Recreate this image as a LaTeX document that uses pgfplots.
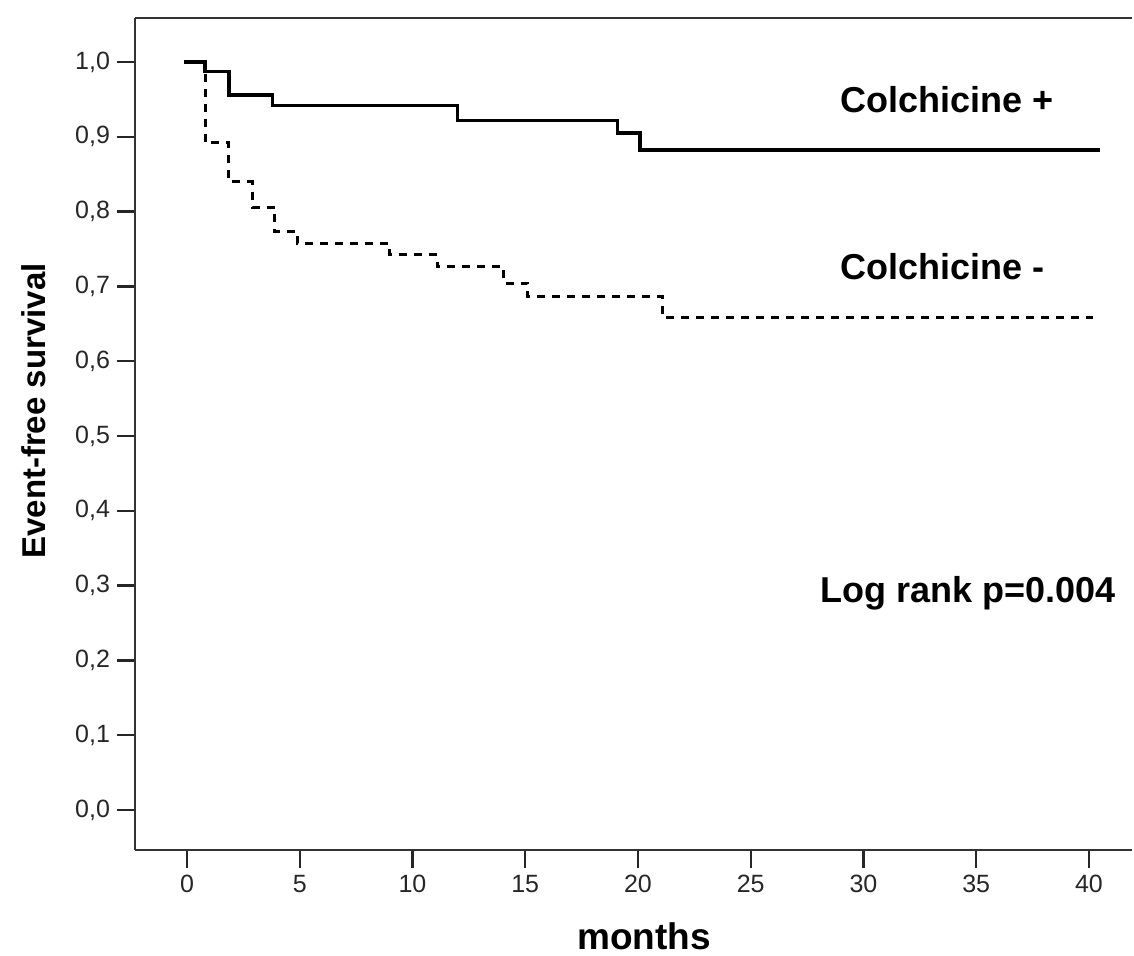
\documentclass[border=0pt]{standalone}
\usepackage{pgfplots}
\pgfplotsset{compat=1.18}
\usepackage{fontspec}
\setmainfont{Liberation Sans}
\begin{document}
\begin{tikzpicture}
\useasboundingbox (0,0) rectangle (567pt,478pt);
\begin{axis}[
  at={(67.5pt,53pt)}, anchor=south west,
  scale only axis, width=498.5pt, height=416pt,
  xmin=-2.306, xmax=41.91, ymin=-0.0535, ymax=1.0588,
  axis x line*=box, axis y line*=left,
  axis line style={black!80, line width=1.4pt},
  xtick={0,5,...,40}, ytick={0,0.1,...,1.0},
  xtick pos=bottom, ytick pos=left,
  tick align=outside, major tick length=9pt,
  every tick/.style={black!85, line width=1.2pt},
  /pgf/number format/assume math mode=true,
  tick label style={font=\fontsize{12.5}{14}\selectfont, text=black!85},
  yticklabel style={/pgf/number format/.cd, fixed, fixed zerofill, precision=1, use comma},
  xticklabel style={/pgf/number format/.cd, fixed, precision=0},
  xlabel={months},
  xlabel style={font=\fontsize{18.5}{20}\selectfont\bfseries, inner sep=0pt, at={(axis description cs:0.5105,-0.1190)}, anchor=base},
  ylabel={Event-free survival},
  ylabel style={font=\fontsize{16.5}{18}\selectfont\bfseries, at={(axis description cs:-0.1013,0.5276)}, anchor=center},
  clip=false,
]
\addplot[const plot, black, line width=1.8pt] coordinates {
  (-0.15,1.0) (0.8,0.987) (1.85,0.956) (3.8,0.942) (12.0,0.922)
  (19.1,0.905) (20.1,0.882) (40.5,0.882)
};
\addplot[const plot, black, line width=1.5pt, dash pattern=on 4pt off 3.5pt] coordinates {
  (0,1.0) (0.8,0.892) (1.85,0.840) (2.9,0.806) (3.9,0.773) (4.9,0.757)
  (9.0,0.742) (11.1,0.726) (14.05,0.704) (15.1,0.686) (21.1,0.658) (40.2,0.658)
};
\node[anchor=base west, font=\fontsize{18}{20}\selectfont\bfseries, inner sep=0pt] at (axis cs:28.95,0.933) {Colchicine +};
\node[anchor=base west, font=\fontsize{18}{20}\selectfont\bfseries, inner sep=0pt] at (axis cs:28.95,0.709) {Colchicine -};
\node[anchor=base west, font=\fontsize{18}{20}\selectfont\bfseries, inner sep=0pt] at (axis cs:28.07,0.277) {Log rank p=0.004};
\end{axis}
\end{tikzpicture}
\end{document}
